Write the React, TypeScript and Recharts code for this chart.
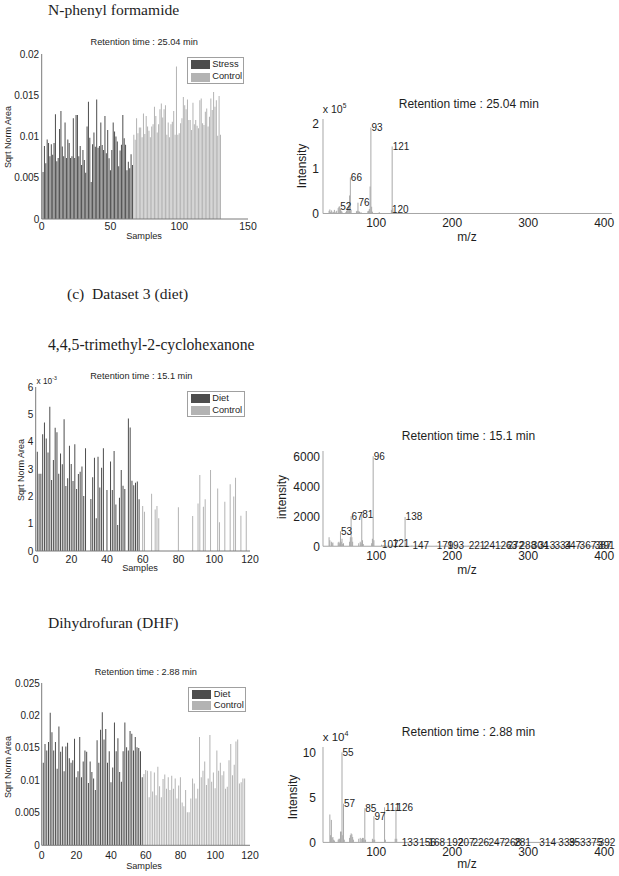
import React from 'react';
import { BarChart, Bar, XAxis, YAxis, Cell, LabelList } from 'recharts';

const SANS = '"Liberation Sans", Arial, Helvetica, sans-serif';
const SERIF = '"Liberation Serif", "Times New Roman", serif';
const INK = '#1e1e1e';
const DARK = '#4d4d4d';
const LIGHT = '#b3b3b3';
const STEM = '#a9a9a9';
const AXIS_BAR = '#7a7a7a';
const AXIS_SPEC = '#a6a6a6';

// ---------- sample bar panels, values in units of 1e-3 ----------

// N-phenyl formamide: stress = samples 1..66, control = 67..130
const stressA = [
  5.7, 8.85, 6.75, 9.65, 9.2, 7.6, 9.05, 7.8, 9.2, 12.7, 7.0, 7.4, 10.9, 13.1, 8.8, 7.6, 11.7,
  7.4, 9.65, 9.2, 7.4, 7.6, 12.2, 7.4, 12.6, 12.6, 7.6, 8.85, 6.55, 8.36, 7.15, 5.6, 11.2, 14.2,
  9.86, 4.5, 9.05, 10.5, 8.75, 14.5, 8.65, 8.85, 11.7, 8.97, 8.36, 12.5, 7.96, 10.8, 7.35, 5.9,
  8.36, 11.7, 10.6, 10.0, 9.4, 6.4, 8.3, 9.0, 12.6, 9.8, 9.0, 5.9, 6.95, 6.15, 7.85, 6.55,
];
const controlA = [
  10.2, 9.6, 12.2, 10.4, 11.1, 11.1, 9.9, 12.8, 10.3, 12.5, 11.2, 10.7, 9.9, 11.2, 11.5, 13.6,
  12.5, 10.5, 11.5, 13.3, 14.0, 12.3, 13.3, 13.8, 10.2, 11.7, 9.9, 11.5, 11.8, 13.1, 10.2, 18.5,
  10.2, 10.4, 11.6, 12.2, 14.8, 13.8, 13.3, 14.5, 12.0, 12.0, 10.8, 14.1, 11.5, 12.0, 11.3, 11.0,
  14.4, 14.6, 11.6, 11.4, 13.0, 13.4, 11.2, 12.4, 14.6, 13.2, 15.4, 13.6, 14.4, 10.1, 14.9, 10.2,
];

// 4,4,5-trimethyl-2-cyclohexanone: diet = samples 1..58 (0 = no bar)
const dietB = [
  3.63, 2.83, 2.83, 4.27, 4.7, 4.12, 3.6, 5.28, 2.6, 3.33, 4.51, 4.34, 2.83, 3.57, 3.17, 4.82,
  2.38, 2.66, 3.85, 3.18, 2.56, 3.91, 2.27, 2.82, 2.9, 3.09, 2.01, 3.76, 0, 0, 1.9, 2.7, 3.41,
  1.2, 3.45, 2.32, 3.05, 3.76, 0, 2.23, 0, 3.27, 2.23, 3.66, 1.7, 0.95, 1.95, 2.96, 2.39, 2.27,
  0, 4.85, 4.52, 2.57, 2.41, 2.5, 2.54, 1.89,
];
const controlBSamples = [60, 61, 65, 67, 68, 69, 80, 88, 91, 92, 94, 95, 98, 102, 103, 106, 109, 111, 112, 115, 118];
const controlBValues = [1.65, 1.44, 2.09, 1.52, 1.65, 1.2, 1.6, 1.28, 1.74, 2.78, 1.62, 1.89, 2.96, 2.29, 1.05, 1.8, 2.44, 1.99, 2.68, 1.29, 1.46];

// Dihydrofuran: diet = samples 1..58, control = 59..117
const dietC = [
  12.7, 15.6, 14.6, 15.9, 20.4, 17.4, 14.6, 15.9, 11.8, 18.3, 14.4, 15.2, 11.4, 15.2, 15.8, 13.4,
  12.7, 13.1, 16.4, 10.5, 11.4, 16.7, 10.5, 12.9, 14.6, 14.4, 9.6, 12.9, 11.3, 10.3, 8.5, 16.2,
  12.7, 17.8, 20.5, 16.3, 17.9, 12.7, 14.5, 9.7, 12.0, 18.9, 14.5, 16.5, 11.3, 9.8, 14.5, 18.9,
  15.1, 14.6, 17.6, 17.2, 14.6, 16.7, 15.1, 15.0, 14.5, 10.5,
];
const controlC = [
  11.0, 11.6, 11.5, 7.4, 11.4, 8.3, 11.2, 7.7, 12.1, 9.1, 7.4, 10.2, 10.9, 8.7, 10.5, 8.5, 10.7,
  8.7, 10.3, 7.2, 9.2, 10.5, 6.6, 6.0, 8.5, 5.1, 5.1, 7.2, 10.3, 9.5, 7.2, 8.7, 16.7, 10.5, 11.5,
  12.9, 9.3, 10.3, 17.0, 9.8, 11.2, 8.8, 14.6, 11.5, 12.7, 10.8, 11.4, 8.7, 9.0, 13.1, 15.6,
  10.8, 12.4, 16.0, 16.3, 9.5, 9.7, 10.3, 10.3,
];

const xTicks150 = [0, 50, 100, 150];
const xTicks120 = [0, 20, 40, 60, 80, 100, 120];

// ---------- mass spectra ----------
const mzA = [38, 39, 40, 41, 43, 44, 45, 47, 48, 50, 51, 52, 53, 54, 55, 60, 61, 62, 63, 64, 65, 66, 67, 74, 75, 76, 77, 78, 80, 89, 90, 91, 92, 93, 94, 95, 104, 120, 121, 122];
const intA = [6000, 9000, 3000, 7000, 4000, 3000, 8000, 4000, 6000, 12000, 15000, 16000, 10000, 6000, 4000, 3000, 6000, 9000, 14000, 20000, 40000, 80000, 8000, 5000, 6000, 24000, 5000, 4000, 3000, 5000, 6000, 10000, 60000, 191000, 15000, 4000, 3000, 8000, 149000, 12000];
const labelsA = [52, 66, 76, 93, 121, 120];

const mzB = [38, 39, 41, 42, 43, 50, 51, 52, 53, 54, 55, 56, 57, 65, 66, 67, 68, 69, 77, 79, 80, 81, 82, 83, 94, 95, 96, 97, 107, 109, 121, 123, 138, 139, 147, 179, 193, 221, 241, 263, 272, 288, 304, 313, 334, 347, 367, 387, 391];
const intB = [600, 400, 300, 200, 250, 250, 300, 200, 1000, 300, 500, 150, 200, 300, 600, 2000, 600, 300, 200, 300, 200, 2100, 400, 150, 200, 500, 6000, 400, 100, 80, 150, 60, 1950, 200, 40, 30, 30, 30, 30, 30, 30, 30, 30, 30, 30, 30, 30, 30, 30];
const labelsB = [53, 67, 81, 96, 107, 121, 138, 147, 179, 193, 221, 241, 263, 272, 288, 304, 313, 334, 347, 367, 387, 391];

const mzC = [39, 40, 41, 42, 43, 44, 45, 50, 51, 52, 53, 54, 55, 56, 57, 58, 65, 66, 67, 68, 69, 70, 77, 79, 81, 82, 83, 84, 85, 86, 95, 96, 97, 98, 111, 112, 125, 126, 127, 133, 156, 168, 192, 207, 226, 247, 268, 281, 314, 339, 353, 375, 392];
const intC = [31000, 8000, 25000, 5000, 6000, 3000, 2000, 3000, 4000, 4000, 12000, 12000, 100000, 8000, 43000, 3000, 5000, 8000, 10000, 9000, 6000, 3000, 4000, 5000, 4000, 5000, 5000, 3000, 38000, 3000, 4000, 3000, 29000, 3000, 39000, 3000, 4000, 39000, 4000, 300, 300, 300, 300, 300, 300, 300, 300, 300, 300, 300, 300, 300, 300];
const labelsC = [55, 57, 85, 97, 111, 126, 133, 156, 168, 192, 207, 226, 247, 268, 281, 314, 339, 353, 375, 392];

type BarRow = { s: number; v: number; ctl: boolean };
const runRows = (vals: number[], start: number, ctl: boolean): BarRow[] =>
  vals.map((v, i) => ({ s: start + i, v, ctl }));
const pickRows = (samples: number[], vals: number[], ctl: boolean): BarRow[] =>
  samples.map((s, i) => ({ s, v: vals[i], ctl }));

const rowsA = [...runRows(stressA, 1, false), ...runRows(controlA, 67, true)];
const rowsB = [...runRows(dietB, 1, false), ...pickRows(controlBSamples, controlBValues, true)];
const rowsC = [...runRows(dietC, 1, false), ...runRows(controlC, 59, true)];

const specRows = (mz: number[], inten: number[], labels: number[]) =>
  mz.map((m, i) => ({ mz: m, int: inten[i], lbl: labels.includes(m) ? String(m) : null }));

const milli = (v: number) => (v === 0 ? '0' : String(+(v / 1000).toFixed(3)));

function Txt({ x, y, size, children, font = SANS, rotate = 0, left = false }: any) {
  return (
    <div
      style={{
        position: 'absolute', left: x, top: y, fontSize: size, fontFamily: font, lineHeight: 1,
        whiteSpace: 'nowrap', color: INK,
        transform: `translate(${left ? '0' : '-50%'}, -50%) rotate(${rotate}deg)`,
      }}
    >
      {children}
    </div>
  );
}

function Expo({ x, y, size, exp }: { x: number; y: number; size: number; exp: string }) {
  return (
    <Txt x={x} y={y} size={size} left>
      x 10<span style={{ fontSize: size * 0.62, position: 'relative', top: -size * 0.45 }}>{exp}</span>
    </Txt>
  );
}

function GroupLegend({ at, labels }: { at: number[]; labels: string[] }) {
  const [x, y, w, h] = at;
  const step = (h - 2.5) / 2;
  return (
    <div style={{ position: 'absolute', left: x, top: y, width: w, height: h, boxSizing: 'border-box', border: '1px solid #a0a0a0', background: '#fff' }}>
      {labels.map((lab, i) => (
        <div key={lab} style={{ position: 'absolute', left: 3, top: 2.3 + i * step, height: 9, display: 'flex', alignItems: 'center' }}>
          <span style={{ width: 19, height: 9, background: i === 0 ? DARK : LIGHT, display: 'inline-block' }} />
          <span style={{ marginLeft: 2.5, fontSize: 9.3, fontFamily: SANS, color: INK, lineHeight: 1 }}>{lab}</span>
        </div>
      ))}
    </div>
  );
}

type BarPanelProps = {
  rows: BarRow[];
  box: number[];
  xMax: number;
  xTicks: number[];
  yMax: number;
  yTicks: number[];
  yFmt?: (v: number) => string;
  yGap: number;
  xGap: number;
};

function SamplePanel({ rows, box, xMax, xTicks, yMax, yTicks, yFmt, yGap, xGap }: BarPanelProps) {
  const [x0, y0, x1, y1] = box;
  const top = y0 - 6;
  const W = x1 + 12;
  const H = y1 - top + 32;
  return (
    <div style={{ position: 'absolute', left: 0, top, width: W, height: H }}>
      <BarChart width={W} height={H} data={rows} margin={{ top: 6, right: 12, bottom: 2, left: 0 }} barCategoryGap="12%">
        <XAxis
          type="number" dataKey="s" domain={[0, xMax]} ticks={xTicks} interval={0} height={30}
          tickLine={false} tickSize={0} tickMargin={xGap} axisLine={{ stroke: AXIS_BAR }}
          tick={{ fontSize: 10.5, fill: INK, fontFamily: SANS }} allowDataOverflow
        />
        <YAxis
          type="number" domain={[0, yMax]} ticks={yTicks} interval={0} width={x0}
          tickLine={false} tickSize={0} tickMargin={yGap} axisLine={{ stroke: AXIS_BAR }}
          tick={{ fontSize: 10, fill: INK, fontFamily: SANS }} tickFormatter={yFmt} allowDataOverflow
        />
        <Bar dataKey="v" isAnimationActive={false}>
          {rows.map((r, i) => (
            <Cell key={i} fill={r.ctl ? LIGHT : DARK} />
          ))}
        </Bar>
      </BarChart>
    </div>
  );
}

const Stem = (props: any) => {
  const { x, y, width, height } = props;
  if (!isFinite(x) || !isFinite(y) || !isFinite(height)) return null;
  const cx = x + width / 2;
  return <line x1={cx} x2={cx} y1={y} y2={y + height} stroke={STEM} strokeWidth={1} />;
};

const PeakLabel = (props: any) => {
  const { value } = props;
  if (value == null || value === '') return null;
  const vb = props.viewBox || props;
  const x = vb.x ?? props.x;
  const y = vb.y ?? props.y;
  const w = vb.width ?? props.width ?? 0;
  return (
    <text x={x + w / 2 + 0.5} y={y} dominantBaseline="central" fontSize={10} fontFamily={SANS} fill={INK}>
      {value}
    </text>
  );
};

type SpecProps = {
  mz: number[];
  inten: number[];
  labels: number[];
  box: number[];
  yMax: number;
  yTicks: number[];
  yFmt?: (v: number) => string;
  yGap: number;
};

function SpectrumPanel({ mz, inten, labels, box, yMax, yTicks, yFmt, yGap }: SpecProps) {
  const [x0, y0, x1, y1] = box;
  const left = x0 - 50;
  const top = y0 - 6;
  const W = x1 - left + 8;
  const H = y1 - top + 32;
  const rows = specRows(mz, inten, labels);
  return (
    <div style={{ position: 'absolute', left, top, width: W, height: H }}>
      <BarChart width={W} height={H} data={rows} margin={{ top: 6, right: 8, bottom: 2, left: 0 }}>
        <XAxis
          type="number" dataKey="mz" domain={[30, 410]} ticks={[100, 200, 300, 400]} interval={0} height={30}
          tickLine={false} tickSize={0} tickMargin={5} axisLine={{ stroke: AXIS_SPEC }}
          tick={{ fontSize: 12, fill: INK, fontFamily: SANS }} allowDataOverflow
        />
        <YAxis
          type="number" domain={[0, yMax]} ticks={yTicks} interval={0} width={50}
          tickLine={false} tickSize={0} tickMargin={yGap} axisLine={{ stroke: AXIS_SPEC }}
          tick={{ fontSize: 12, fill: INK, fontFamily: SANS }} tickFormatter={yFmt} allowDataOverflow
        />
        <Bar dataKey="int" isAnimationActive={false} shape={Stem}>
          <LabelList dataKey="lbl" content={PeakLabel} />
        </Bar>
      </BarChart>
    </div>
  );
}

export default function App() {
  return (
    <div style={{ position: 'absolute', left: 0, top: 0, width: 619, height: 876, background: '#fff', overflow: 'hidden' }}>
      {/* (b) stress dataset */}
      <Txt x={48} y={10.2} size={15.6} font={SERIF} left>N-phenyl formamide</Txt>
      <SamplePanel rows={rowsA} box={[41.7, 54, 248, 219]} xMax={150} xTicks={xTicks150} yMax={20} yTicks={[0, 5, 10, 15, 20]} yFmt={milli} yGap={2.5} xGap={4} />
      <Txt x={144.2} y={43.3} size={9.2}>Retention time : 25.04 min</Txt>
      <Txt x={7.5} y={137} size={9} rotate={-90}>Sqrt Norm Area</Txt>
      <Txt x={144} y={237.3} size={9.2}>Samples</Txt>
      <GroupLegend at={[186.7, 56.7, 57.6, 27.6]} labels={['Stress', 'Control']} />

      <SpectrumPanel mz={mzA} inten={intA} labels={labelsA} box={[322.7, 118.5, 611.5, 213]} yMax={210000} yTicks={[0, 100000, 200000]} yFmt={(v) => String(v / 1e5)} yGap={4} />
      <Txt x={468.8} y={103.8} size={12}>Retention time : 25.04 min</Txt>
      <Expo x={322.7} y={109} size={10.6} exp="5" />
      <Txt x={301.5} y={165.5} size={12} rotate={-90}>Intensity</Txt>
      <Txt x={467} y={236.7} size={12}>m/z</Txt>

      <Txt x={67} y={294} size={15.6} font={SERIF} left>(c)&nbsp; Dataset 3 (diet)</Txt>

      {/* (c) diet dataset */}
      <Txt x={48} y={345} size={15.7} font={SERIF} left>4,4,5-trimethyl-2-cyclohexanone</Txt>
      <SamplePanel rows={rowsB} box={[35.7, 387, 250, 551]} xMax={120} xTicks={xTicks120} yMax={6} yTicks={[0, 1, 2, 3, 4, 5, 6]} yGap={2.4} xGap={5} />
      <Txt x={141.3} y={377} size={9.2}>Retention time : 15.1 min</Txt>
      <Expo x={36.5} y={381} size={8.3} exp="-3" />
      <Txt x={21} y={469.7} size={9} rotate={-90}>Sqrt Norm Area</Txt>
      <Txt x={140} y={569.3} size={9.2}>Samples</Txt>
      <GroupLegend at={[186.7, 391, 58.3, 25.7]} labels={['Diet', 'Control']} />

      <SpectrumPanel mz={mzB} inten={intB} labels={labelsB} box={[322.7, 450.75, 611.5, 546]} yMax={6350} yTicks={[0, 2000, 4000, 6000]} yGap={3} />
      <Txt x={468.5} y={435.7} size={12}>Retention time : 15.1 min</Txt>
      <Txt x={281.7} y={496.7} size={12} rotate={-90}>intensity</Txt>
      <Txt x={467} y={570} size={12}>m/z</Txt>

      <Txt x={48} y={623.3} size={15.6} font={SERIF} left>Dihydrofuran (DHF)</Txt>
      <SamplePanel rows={rowsC} box={[41.7, 682.7, 250, 845]} xMax={120} xTicks={xTicks120} yMax={25} yTicks={[0, 5, 10, 15, 20, 25]} yFmt={milli} yGap={1.8} xGap={6} />
      <Txt x={145.8} y={673} size={9.2}>Retention time : 2.88 min</Txt>
      <Txt x={7.5} y={766.7} size={9} rotate={-90}>Sqrt Norm Area</Txt>
      <Txt x={144} y={867} size={9.2}>Samples</Txt>
      <GroupLegend at={[188.3, 686.7, 57.4, 25]} labels={['Diet', 'Control']} />

      <SpectrumPanel mz={mzC} inten={intC} labels={labelsC} box={[322.7, 747.3, 611.5, 842.7]} yMax={106000} yTicks={[0, 50000, 100000]} yFmt={(v) => String(v / 1e4)} yGap={7} />
      <Txt x={468.5} y={731.7} size={12}>Retention time : 2.88 min</Txt>
      <Expo x={322.7} y={737.8} size={11.5} exp="4" />
      <Txt x={292.5} y={796.7} size={12} rotate={-90}>Intensity</Txt>
      <Txt x={467} y={864} size={12}>m/z</Txt>
    </div>
  );
}
